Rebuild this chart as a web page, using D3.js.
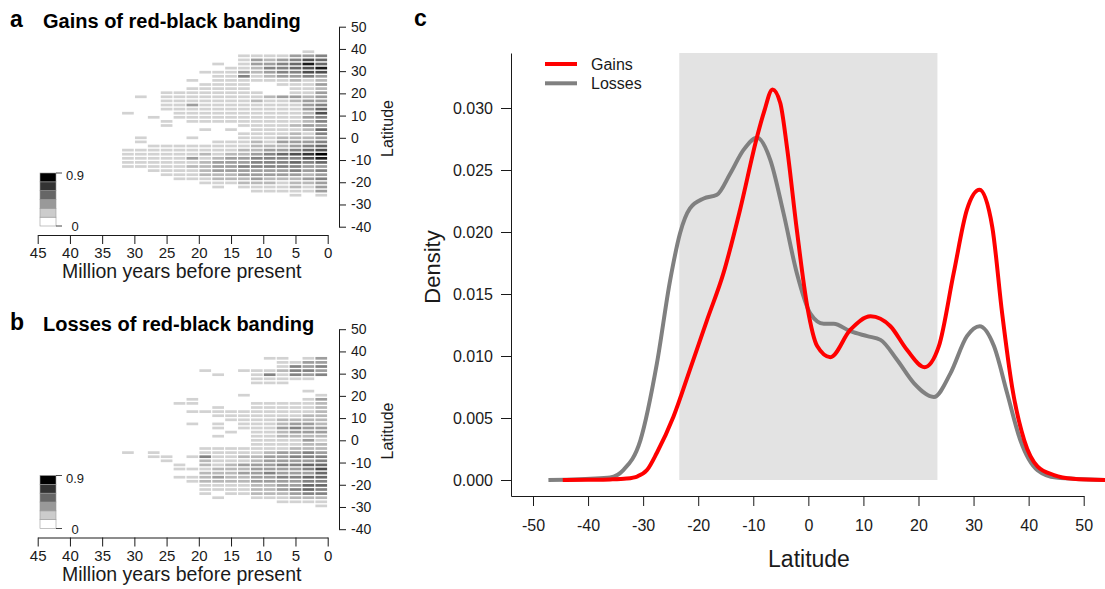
<!DOCTYPE html>
<html>
<head>
<meta charset="utf-8">
<title>Red-black banding</title>
<script src="https://d3js.org/d3.v7.min.js"></script>
<style>
  body { margin: 0; background: #fff; }
  svg { font-family: "Liberation Sans", Arial, Helvetica, sans-serif; }
</style>
</head>
<body>
<svg id="fig" width="1105" height="589"></svg>
<script>
// ---- panels a and b: heatmaps (2 Myr columns, oldest on the left) ----
var ageBins = [30, 28, 26, 24, 22, 20, 18, 16, 14, 12, 10, 8, 6, 4, 2, 0]; // lower edge of each bin
var latTop = 39.67, latStep = 1.845;   // latitude rows, top row first
var ageTicks = [45, 40, 35, 30, 25, 20, 15, 10, 5, 0];
var latTicks = [50, 40, 30, 20, 10, 0, -10, -20, -30, -40];
var keyLabels = ["0.9", "0"];

// one string per latitude row, one digit per age column (digit/10 = proportion, 0 = no cell)
var gainsGrid = [
  "0000000000000010",
  "0000000001111334",
  "0000000001323465",
  "0000000101334585",
  "0000000011244568",
  "0000001113234466",
  "0000000114123343",
  "0000010111111212",
  "0000001111001113",
  "0000011111000112",
  "0001111111100113",
  "0101111111123323",
  "0001111111211233",
  "0001131111111134",
  "0001111111111135",
  "1000111111111126",
  "0010111111111134",
  "0001011111111124",
  "0001000001111233",
  "0000001010111125",
  "0000000001111214",
  "0100010001112223",
  "0100000111213334",
  "0011111111222345",
  "1111111112233456",
  "1111112122345679",
  "1111131233444468",
  "1111112333444545",
  "1111122334444433",
  "0011112333333434",
  "0001112223333323",
  "0000111222322234",
  "0000001112221223",
  "0000000101111213",
  "0000000000111113",
  "0000000000000101"
];

var lossesGrid = [
  "0000000000000000",
  "0000000000011013",
  "0000000000001133",
  "0000000000001434",
  "0000001001112443",
  "0000000100141434",
  "0000000000111110",
  "0000000000111000",
  "0000000000000000",
  "0000000000000010",
  "0000000001000001",
  "0000010000000013",
  "0000110000111112",
  "0000000100111112",
  "0000011111111112",
  "0000000111111122",
  "0000000011112222",
  "0000010101112332",
  "0000000101113433",
  "0000000010112333",
  "0000000100112222",
  "0000000000111131",
  "0000000000111122",
  "0000001111111222",
  "1010001111123343",
  "0011014112233444",
  "0001002111233334",
  "0000102123334455",
  "0000111222333346",
  "0000002223343335",
  "0000112322334455",
  "0000012222333344",
  "0000001111223355",
  "0000001111223454",
  "0000001011222344",
  "0000000100111222",
  "0000000000001111",
  "0000000000000001"
];

// ---- panel c: density of gains / losses by latitude ----
var densLatTicks = [-50, -40, -30, -20, -10, 0, 10, 20, 30, 40, 50];
var densTicks = [0, 0.005, 0.010, 0.015, 0.020, 0.025, 0.030];
var tropics = [-23.44, 23.44];

var gainsLat = [-44.6, -40, -36, -33, -31, -29.3, -27.5, -24.5, -21.5, -18.4, -15.4, -12.4, -9.3, -8.1, -6.5, -5.1, -3.9, -2.1, -0.2, 1.6, 4.0, 7.6, 11.3, 14.9, 17.9, 21.1, 23.7, 26.4, 28.8, 31.1, 33.4, 35.2, 37.0, 39.2, 41.6, 44.6, 48, 54];
var gainsDensity = [0, 0.00002, 0.00005, 0.00012, 0.0003, 0.0008, 0.0022, 0.0051, 0.0089, 0.0129, 0.0167, 0.0218, 0.0277, 0.0296, 0.0315, 0.0304, 0.0269, 0.0202, 0.0140, 0.0108, 0.0099, 0.0121, 0.0132, 0.0124, 0.0105, 0.0091, 0.0108, 0.0167, 0.0218, 0.0234, 0.0204, 0.0134, 0.0075, 0.0032, 0.0011, 0.0004, 0.0001, 0];

var lossesLat = [-47.2, -44, -39.6, -36, -33.6, -30.5, -27.5, -25.1, -23.3, -21.5, -19.0, -16.6, -14.2, -11.8, -9.3, -6.9, -4.5, -2.1, 0.4, 2.8, 4.6, 7.6, 10.7, 13.1, 16.1, 19.2, 22.8, 25.8, 28.8, 31.1, 33.7, 36.1, 38.5, 41.6, 45, 54];
var lossesDensity = [0, 0.00003, 0.0001, 0.0002, 0.0008, 0.0032, 0.0094, 0.0161, 0.0199, 0.0219, 0.0227, 0.0230, 0.0247, 0.0266, 0.0276, 0.0258, 0.0215, 0.0167, 0.0134, 0.0126, 0.0126, 0.0120, 0.0116, 0.0113, 0.0097, 0.0078, 0.0067, 0.0086, 0.0116, 0.0124, 0.0108, 0.0070, 0.0032, 0.0008, 0.0002, 0];

var svg = d3.select("#fig");
var ink = "#1a1a1a";
var plain = function(d) { return String(d); };   // hyphen minus, as in the original

// grey shades: cells run from light grey to black, key from white to black
var cellColor = d3.scaleLinear().domain([0.1, 0.9]).range(["#d2d2d2", "#000000"]).clamp(true);
var keyColor = d3.scaleLinear().domain([0, 5]).range(["#ffffff", "#000000"]);

function styleAxis(g, size) {
  g.selectAll("path, line").attr("stroke", ink).attr("stroke-width", 1);
  g.selectAll("text").attr("fill", ink).attr("font-size", size).attr("font-family", null);
  g.attr("font-family", null).attr("font-size", null);
}

function drawHeat(dy, grid, letter, title) {
  var g = svg.append("g").attr("transform", "translate(0," + dy + ")");
  var x = d3.scaleLinear().domain([45, 0]).range([37.7, 327.7]);
  var y = d3.scaleLinear().domain([50, -40]).range([26.7, 226.7]);

  var cells = [];
  grid.forEach(function(row, r) {
    row.split("").forEach(function(ch, c) {
      if (ch !== "0") cells.push({ age: ageBins[c], lat: latTop - r * latStep, v: +ch / 10 });
    });
  });

  g.selectAll("rect.cell").data(cells).enter().append("rect")
    .attr("class", "cell")
    .attr("x", function(d) { return x(d.age + 2) + 0.6; })
    .attr("width", function(d) { return x(d.age) - x(d.age + 2) - 1.2; })
    .attr("y", function(d) { return y(d.lat) + 0.7; })
    .attr("height", function(d) { return y(d.lat - latStep) - y(d.lat) - 1.4; })
    .attr("fill", function(d) { return cellColor(d.v); });

  // axes
  var xa = g.append("g").attr("transform", "translate(0,235)")
    .call(d3.axisBottom(x).tickValues(ageTicks).tickFormat(plain)
      .tickSize(9).tickSizeOuter(0).tickPadding(3.5));
  styleAxis(xa, 15);
  var ya = g.append("g").attr("transform", "translate(339,0)")
    .call(d3.axisRight(y).tickValues(latTicks).tickFormat(plain)
      .tickSize(7).tickSizeOuter(0).tickPadding(5));
  styleAxis(ya, 14);

  g.append("text").attr("x", 181.7).attr("y", 278).attr("text-anchor", "middle")
    .attr("font-size", 19.5).attr("fill", ink).text("Million years before present");
  g.append("text").attr("transform", "translate(393,128.5) rotate(-90)").attr("text-anchor", "middle")
    .attr("font-size", 16).attr("fill", ink).text("Latitude");

  g.append("text").attr("x", 10).attr("y", 27).attr("font-size", 23).attr("font-weight", "bold").text(letter);
  g.append("text").attr("x", 43).attr("y", 28).attr("font-size", 20).attr("font-weight", "bold").text(title);

  // colour key
  var ky = d3.scaleLinear().domain([0, 6]).range([226, 173]);
  var key = g.append("g");
  key.selectAll("rect").data(d3.range(6)).enter().append("rect")
    .attr("x", 40).attr("width", 16)
    .attr("y", function(i) { return ky(i + 1); })
    .attr("height", function(i) { return ky(i) - ky(i + 1); })
    .attr("fill", function(i) { return keyColor(i); })
    .attr("stroke", "#9a9a9a").attr("stroke-width", 0.6);
  key.selectAll("line").data([6, 0]).enter().append("line")
    .attr("x1", 56).attr("x2", 62)
    .attr("y1", function(i) { return ky(i); }).attr("y2", function(i) { return ky(i); })
    .attr("stroke", ink).attr("stroke-width", 0.8);
  key.selectAll("text").data(keyLabels).enter().append("text")
    .attr("x", 75).attr("y", function(d, i) { return i === 0 ? 180 : 231; })
    .attr("text-anchor", "middle").attr("font-size", 13).attr("fill", ink)
    .text(function(d) { return d; });
}

drawHeat(0, gainsGrid, "a", "Gains of red-black banding");
drawHeat(302.5, lossesGrid, "b", "Losses of red-black banding");

// ---- panel c ----
var xs = d3.scaleLinear().domain([-50, 50]).range([533, 1083.7]);
var ys = d3.scaleLinear().domain([0, 0.03]).range([480, 108]);
var xAxisScale = xs.copy().domain([xs.invert(511), 50]).range([511, 1083.7]);
var yAxisScale = ys.copy().domain([ys.invert(496), ys.invert(53)]).range([496, 53]);

var c = svg.append("g");
c.append("rect")
  .attr("x", xs(tropics[0])).attr("width", xs(tropics[1]) - xs(tropics[0]))
  .attr("y", 53).attr("height", ys(0) - 53)
  .attr("fill", "#e3e3e3");

var line = d3.line().curve(d3.curveMonotoneX)
  .x(function(d) { return xs(d[0]); })
  .y(function(d) { return ys(d[1]); });

c.append("path").datum(d3.zip(lossesLat, lossesDensity)).attr("d", line)
  .attr("fill", "none").attr("stroke", "#808080").attr("stroke-width", 4);
c.append("path").datum(d3.zip(gainsLat, gainsDensity)).attr("d", line)
  .attr("fill", "none").attr("stroke", "#ff0000").attr("stroke-width", 4);

var cx = c.append("g").attr("transform", "translate(0,496)")
  .call(d3.axisBottom(xAxisScale).tickValues(densLatTicks).tickFormat(plain)
    .tickSize(10).tickSizeOuter(0).tickPadding(13.5));
styleAxis(cx, 16);
var cy = c.append("g").attr("transform", "translate(511,0)")
  .call(d3.axisLeft(yAxisScale).tickValues(densTicks).tickSize(10).tickSizeOuter(0).tickPadding(8)
    .tickFormat(d3.format(".3f")));
styleAxis(cy, 16);

c.append("text").attr("x", 809).attr("y", 567).attr("text-anchor", "middle")
  .attr("font-size", 23).attr("fill", ink).text("Latitude");
c.append("text").attr("transform", "translate(440,267) rotate(-90)").attr("text-anchor", "middle")
  .attr("font-size", 22).attr("fill", ink).text("Density");
c.append("text").attr("x", 414).attr("y", 26).attr("font-size", 23).attr("font-weight", "bold").text("c");

// legend
var series = [{ name: "Gains", color: "#ff0000" }, { name: "Losses", color: "#808080" }];
var lg = c.selectAll("g.leg").data(series).enter().append("g").attr("class", "leg")
  .attr("transform", function(d, i) { return "translate(0," + (64 + i * 19.3) + ")"; });
lg.append("line").attr("x1", 545).attr("x2", 577)
  .attr("stroke", function(d) { return d.color; }).attr("stroke-width", 4);
lg.append("text").attr("x", 591).attr("y", 6).attr("font-size", 16).attr("fill", ink)
  .text(function(d) { return d.name; });
</script>
</body>
</html>
